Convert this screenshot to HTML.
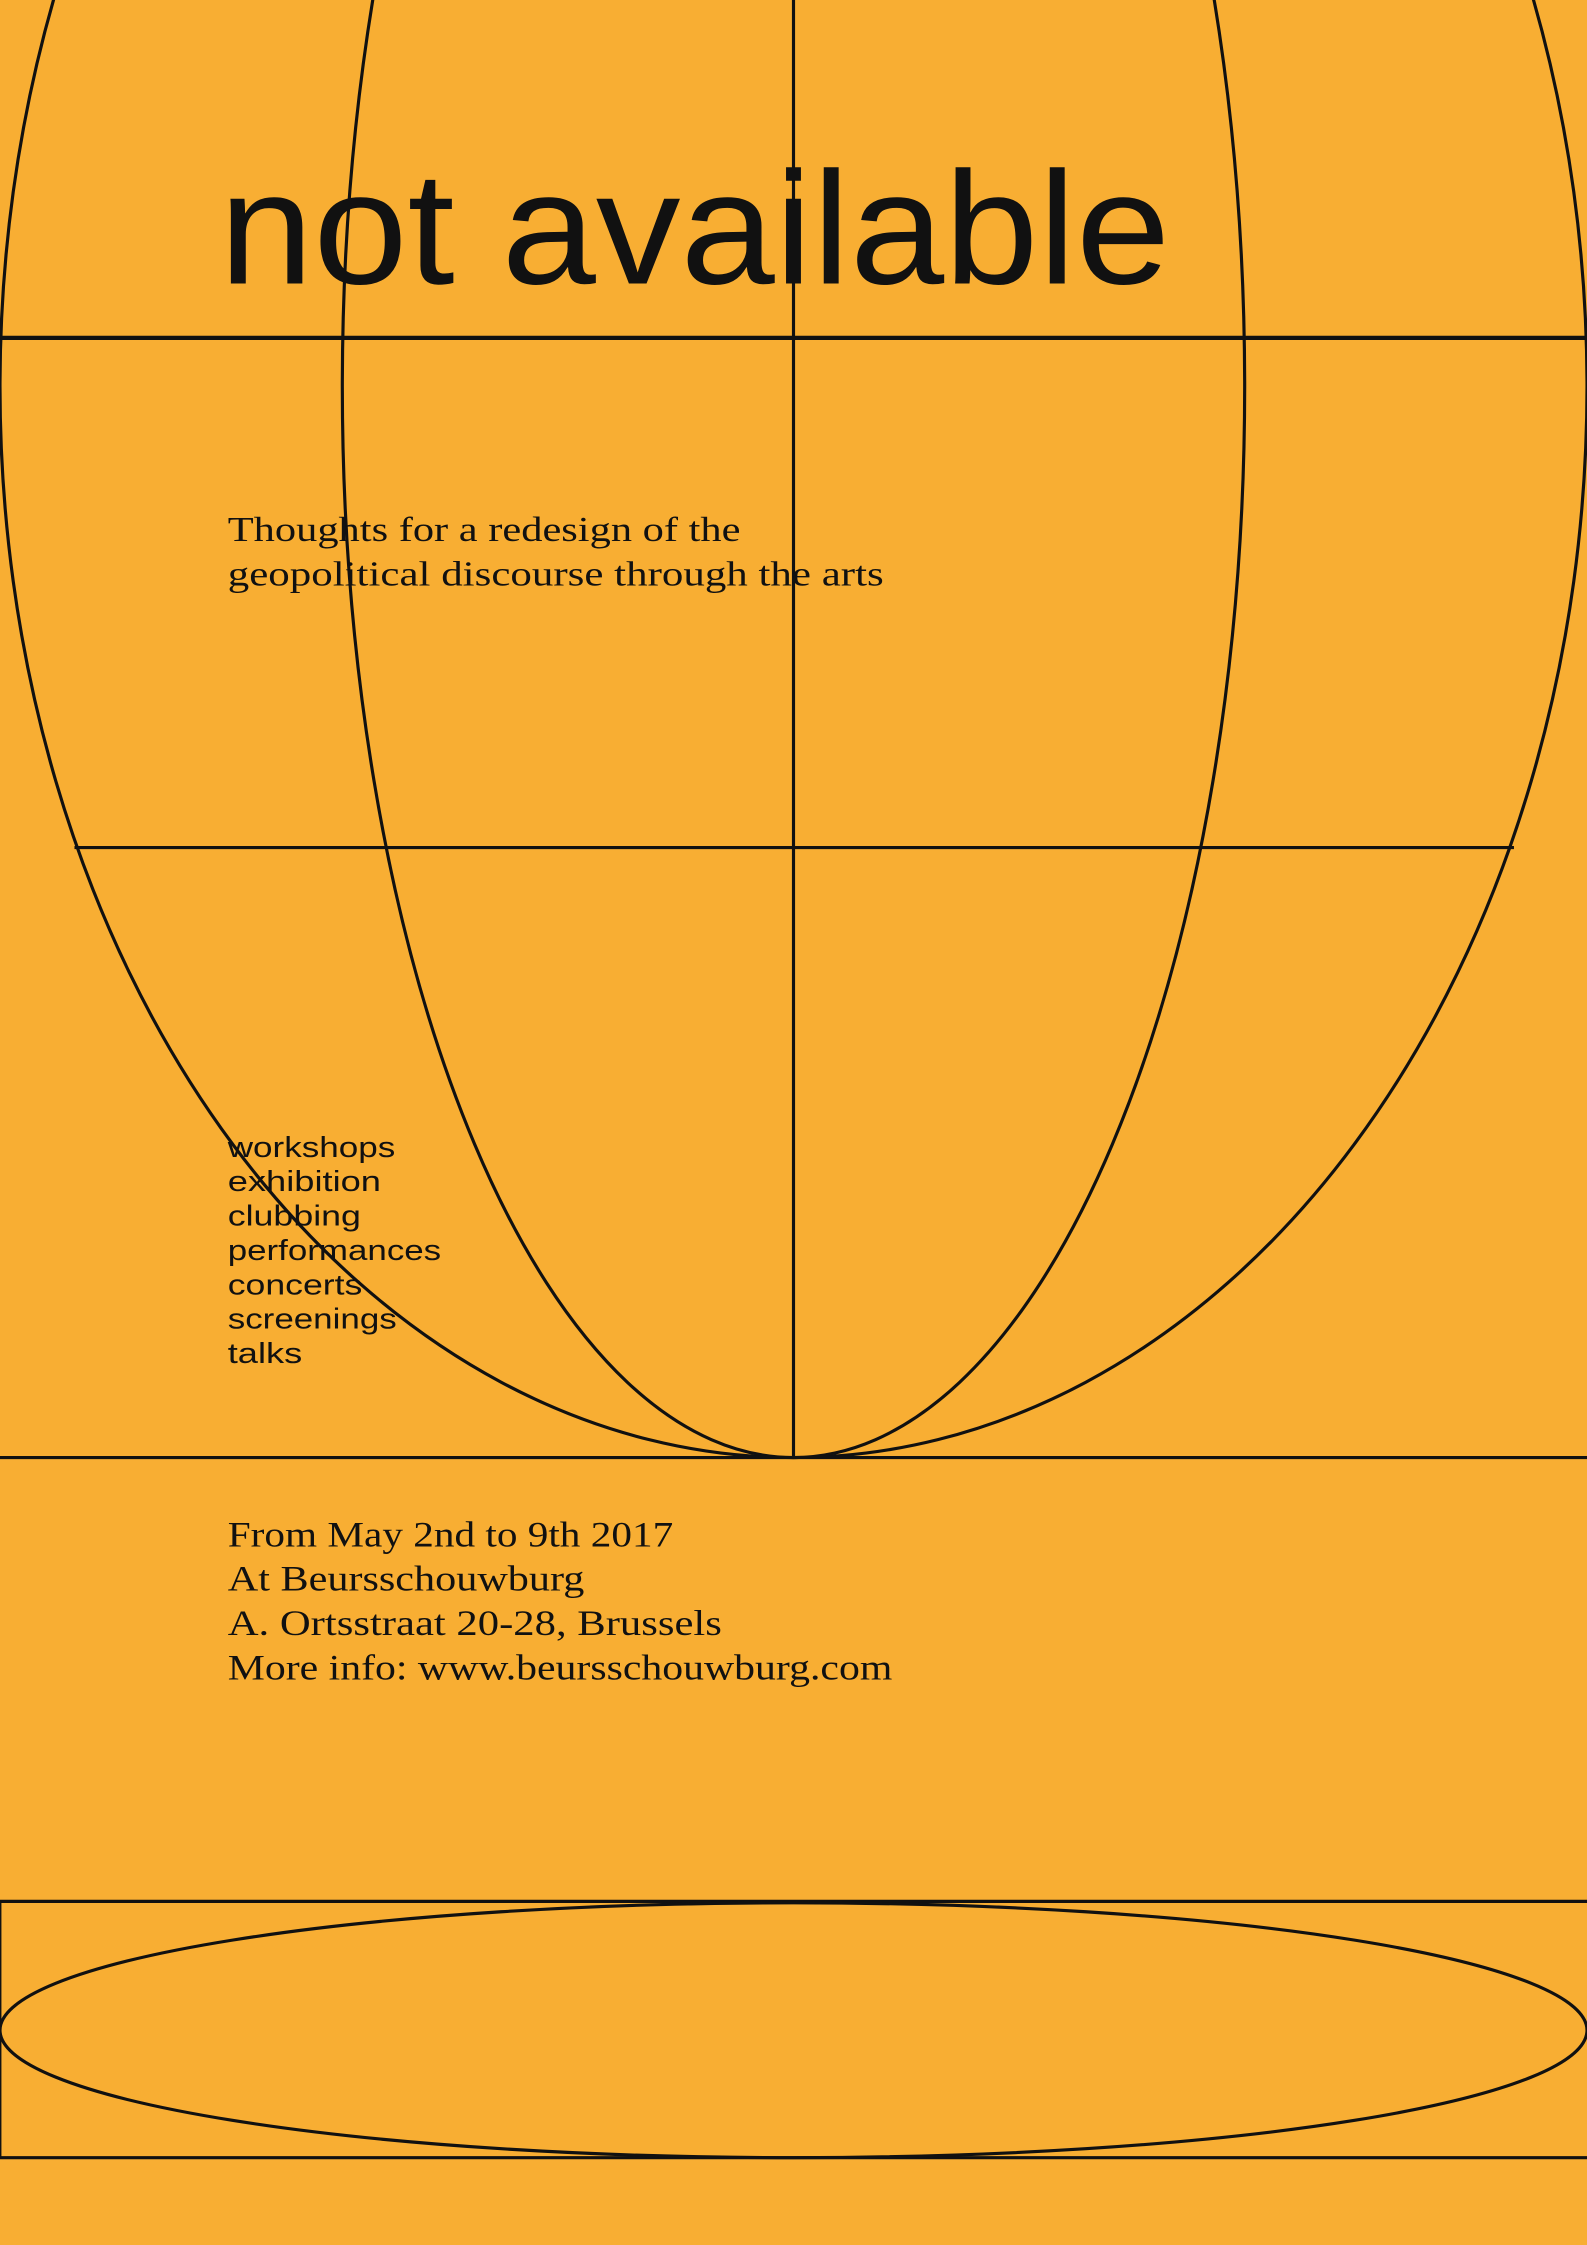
<!DOCTYPE html>
<html><head><meta charset="utf-8"><style>
html,body{margin:0;padding:0;background:#f8ae33;}
svg{display:block}
.serif{font-family:"Liberation Serif",serif;}
.sans{font-family:"Liberation Sans",sans-serif;}
</style></head><body>
<svg width="1587" height="2245" viewBox="0 0 1108 1568" preserveAspectRatio="none">
<rect x="0" y="0" width="1108" height="1568" fill="#f8ae33"/>
<g fill="none" stroke="#111" stroke-width="2.2">
<ellipse cx="554" cy="270" rx="554" ry="748"/>
<ellipse cx="554" cy="270" rx="315" ry="748"/>
<line x1="554" y1="0" x2="554" y2="1018"/>
<line x1="0" y1="236" x2="1108" y2="236" stroke-width="3"/>
<line x1="52" y1="592" x2="1057" y2="592"/>
<line x1="0" y1="1018" x2="1108" y2="1018"/>
<line x1="0" y1="1328" x2="1108" y2="1328"/>
<line x1="0" y1="1507" x2="1108" y2="1507"/>
<line x1="0.5" y1="1328" x2="0.5" y2="1507" stroke-width="1"/>
<ellipse cx="554" cy="1418" rx="554" ry="89"/>
</g>
<text x="153" y="198" class="sans" font-size="112" textLength="664" lengthAdjust="spacingAndGlyphs" fill="#111">not available</text>
<g class="serif" font-size="24" fill="#111">
<text x="159" y="378" textLength="358" lengthAdjust="spacingAndGlyphs">Thoughts for a redesign of the</text>
<text x="159" y="409" textLength="458" lengthAdjust="spacingAndGlyphs">geopolitical discourse through the arts</text>
</g>
<g class="sans" font-size="20" fill="#111">
<text x="159" y="808" textLength="117" lengthAdjust="spacingAndGlyphs">workshops</text>
<text x="159" y="832" textLength="107" lengthAdjust="spacingAndGlyphs">exhibition</text>
<text x="159" y="856" textLength="93" lengthAdjust="spacingAndGlyphs">clubbing</text>
<text x="159" y="880" textLength="149" lengthAdjust="spacingAndGlyphs">performances</text>
<text x="159" y="904" textLength="94" lengthAdjust="spacingAndGlyphs">concerts</text>
<text x="159" y="928" textLength="118" lengthAdjust="spacingAndGlyphs">screenings</text>
<text x="159" y="952" textLength="52" lengthAdjust="spacingAndGlyphs">talks</text>
</g>
<g class="serif" font-size="25" fill="#111">
<text x="159" y="1080" textLength="311" lengthAdjust="spacingAndGlyphs">From May 2nd to 9th 2017</text>
<text x="159" y="1111" textLength="249" lengthAdjust="spacingAndGlyphs">At Beursschouwburg</text>
<text x="159" y="1142" textLength="345" lengthAdjust="spacingAndGlyphs">A. Ortsstraat 20-28, Brussels</text>
<text x="159" y="1173" textLength="464" lengthAdjust="spacingAndGlyphs">More info: www.beursschouwburg.com</text>
</g>
</svg>
</body></html>
